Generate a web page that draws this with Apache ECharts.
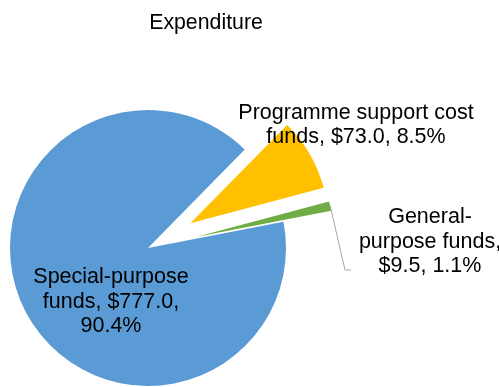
<!DOCTYPE html>
<html>
<head>
<meta charset="utf-8">
<script src="https://cdn.jsdelivr.net/npm/echarts@6/dist/echarts.min.js"></script>
<style>
  html, body { margin: 0; padding: 0; background: #fff; }
  #chart { width: 499px; height: 387px; }
</style>
</head>
<body>
<div id="chart"></div>
<script>
// Fund names (with the line breaks used in the labels), amounts in $ millions, slice colours
const categories = ['Programme support cost\nfunds', 'General-\npurpose funds', 'Special-purpose\nfunds'];
const values = [73.0, 9.5, 777.0];
const colors = ['#FFC000', '#70AD47', '#5B9BD5'];
const exploded = [true, true, false];

// Separators inside each label: before the amount and before the percentage
const amtBreak = [' ', '\n', ' '];
const pctBreak = [' ', ' ', '\n'];
// Label text block centres
const labelPos = [[356, 125], [430, 242], [111, 302]];

const FONT = 'Liberation Sans, Arial, sans-serif';
const CENTER = [148, 248];
const RADIUS = 138;
const START = 45.5;      // degrees, counter-clockwise from 3 o'clock
const OFFSET = 49;       // explosion distance of the pulled-out slices

const total = values.reduce((a, b) => a + b, 0);
const labelText = values.map((v, i) =>
  categories[i] + ',' + amtBreak[i] + '$' + v.toFixed(1) + ',' + pctBreak[i] + (v / total * 100).toFixed(1) + '%');

// Outer tip of the general-purpose slice (exploded), used for its leader line
let acc = 0;
const midAngles = values.map(v => {
  const a = START - (acc + v / 2) / total * 360;
  acc += v;
  return a * Math.PI / 180;
});
const gi = 1;
const tipR = RADIUS + (exploded[gi] ? OFFSET : 0);
const tip = [CENTER[0] + tipR * Math.cos(midAngles[gi]), CENTER[1] - tipR * Math.sin(midAngles[gi])];

const chart = echarts.init(document.getElementById('chart'), null, { renderer: 'canvas' });

const data = categories.map((name, i) => ({
  name: name,
  value: values[i],
  selected: exploded[i],
  itemStyle: { color: colors[i] },
  select: { itemStyle: { color: colors[i], borderWidth: 0 } }
}));

const labelGraphics = labelText.map((t, i) => ({
  type: 'text',
  x: labelPos[i][0],
  y: labelPos[i][1],
  silent: true,
  z: 100,
  style: {
    text: t,
    align: 'center',
    verticalAlign: 'middle',
    fontFamily: FONT,
    fontSize: 21.5,
    lineHeight: 24.5,
    fill: '#000'
  }
}));

chart.setOption({
  animation: false,
  title: {
    text: 'Expenditure',
    left: 201,
    top: 8,
    textAlign: 'center',
    textStyle: { fontFamily: FONT, fontSize: 21.3, fontWeight: 'normal', color: '#000' }
  },
  graphic: labelGraphics.concat([{
    type: 'polyline',
    silent: true,
    z: 99,
    shape: { points: [tip, [345, 270], [351, 270]] },
    style: { stroke: '#A6A6A6', lineWidth: 1, fill: null }
  }]),
  series: [{
    type: 'pie',
    center: CENTER,
    radius: RADIUS,
    startAngle: START,
    clockwise: true,
    selectedMode: 'multiple',
    selectedOffset: OFFSET,
    silent: true,
    itemStyle: { borderWidth: 0 },
    emphasis: { disabled: true },
    label: { show: false },
    labelLine: { show: false },
    data: data
  }]
});
</script>
</body>
</html>
